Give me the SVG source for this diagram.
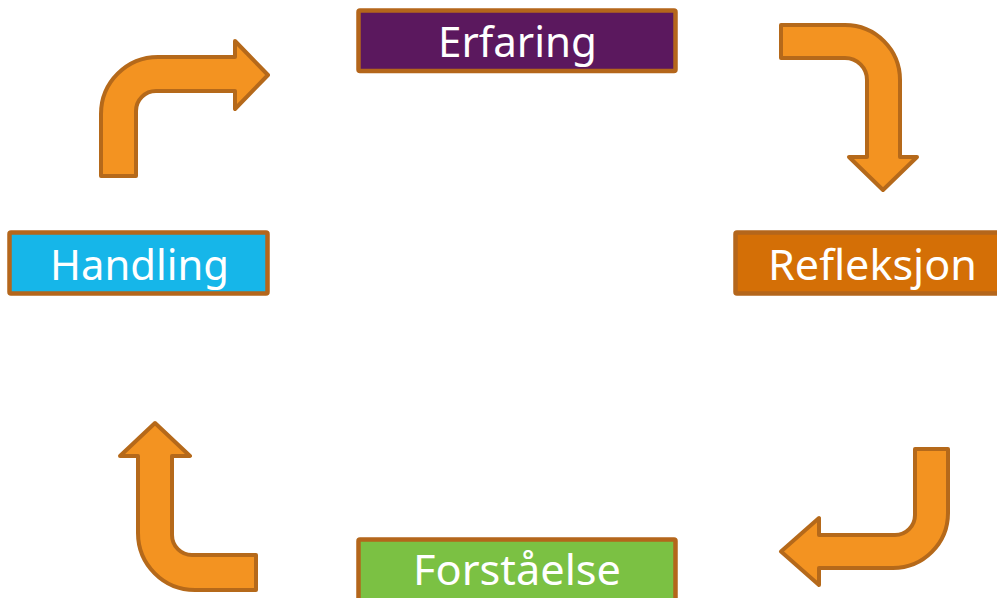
<svg xmlns="http://www.w3.org/2000/svg" width="997" height="598" viewBox="0 0 997 598">
  <style>
    .box { stroke: #B4661B; stroke-width: 4.5; }
    .lbl { font-family: "Noto Sans", "Open Sans", "DejaVu Sans", sans-serif; font-size: 42px; fill: #FFFFFF; text-anchor: middle; }
    .arrow { fill: #F39321; stroke: #B5691A; stroke-width: 4; stroke-linejoin: round; }
  </style>
  <rect width="997" height="598" fill="#FFFFFF"/>
  <g id="connectors">
    <path class="arrow" d="M101,176 L101,114 A57,57 0 0 1 158,57 L235,57 L235,41 L268,75 L235,109 L235,91 L156,91 A20,20 0 0 0 136,111 L136,176 Z"/>
    <path class="arrow" d="M781,25 L845,25 A55,55 0 0 1 900,80 L900,157 L917,157 L883,190 L849,157 L867,157 L867,80 A22,22 0 0 0 845,58 L781,58 Z"/>
    <path class="arrow" d="M915,449 L948,449 L948,513 A55,55 0 0 1 893,568 L819,568 L819,585 L781,551.5 L819,518 L819,535 L895,535 A20,20 0 0 0 915,515 Z"/>
    <path class="arrow" d="M256,555 L256,590 L195,590 A57,57 0 0 1 138,533 L138,456 L120,456 L155,423 L190,456 L172,456 L172,535 A20,20 0 0 0 192,555 Z"/>
  </g>
  <g id="erfaring">
    <rect class="box" x="358.5" y="10.5" width="317" height="60.5" rx="1.5" fill="#5B185E"/>
    <text class="lbl" x="517.5" y="57" textLength="159" lengthAdjust="spacingAndGlyphs">Erfaring</text>
  </g>
  <g id="refleksjon">
    <rect class="box" x="735.5" y="232.5" width="280" height="61" rx="1.5" fill="#D46F06"/>
    <text class="lbl" x="872.5" y="280" textLength="209" lengthAdjust="spacingAndGlyphs">Refleksjon</text>
  </g>
  <g id="forstaaelse">
    <rect class="box" x="358.5" y="539.5" width="317" height="70" rx="1.5" fill="#7BC143"/>
    <text class="lbl" x="517" y="585" textLength="208" lengthAdjust="spacingAndGlyphs">Forståelse</text>
  </g>
  <g id="handling">
    <rect class="box" x="9.5" y="232.5" width="258" height="61" rx="1.5" fill="#16B6E9"/>
    <text class="lbl" x="139.5" y="280" textLength="179" lengthAdjust="spacingAndGlyphs">Handling</text>
  </g>
</svg>
